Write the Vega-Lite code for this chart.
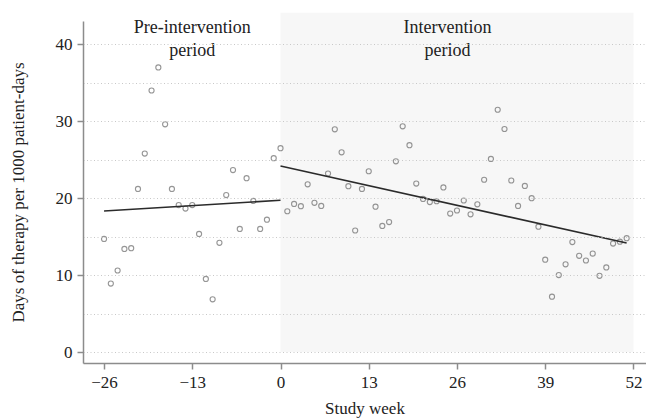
{
  "$schema": "https://vega.github.io/schema/vega-lite/v6.json",
  "autosize": "none",
  "width": 563,
  "height": 342,
  "padding": {"left": 83, "top": 21, "right": 0, "bottom": 57},
  "background": "white",
  "config": {
    "font": "Liberation Serif",
    "view": {"stroke": null},
    "axis": {
      "labelFont": "Liberation Serif",
      "titleFont": "Liberation Serif",
      "labelFontSize": 17,
      "titleFontSize": 17,
      "titleFontWeight": "normal",
      "labelColor": "#222",
      "titleColor": "#222",
      "domainColor": "#8c8c8c",
      "domainWidth": 1.5,
      "tickColor": "#8c8c8c",
      "tickWidth": 1.5,
      "tickSize": 6,
      "labelPadding": 5
    }
  },
  "datasets": {
    "weeks": [
      {"week": -26, "dot": 14.7}, {"week": -25, "dot": 8.9}, {"week": -24, "dot": 10.6},
      {"week": -23, "dot": 13.4}, {"week": -22, "dot": 13.5}, {"week": -21, "dot": 21.2},
      {"week": -20, "dot": 25.8}, {"week": -19, "dot": 34.0}, {"week": -18, "dot": 37.0},
      {"week": -17, "dot": 29.6}, {"week": -16, "dot": 21.2}, {"week": -15, "dot": 19.1},
      {"week": -14, "dot": 18.65}, {"week": -13, "dot": 19.1}, {"week": -12, "dot": 15.35},
      {"week": -11, "dot": 9.5}, {"week": -10, "dot": 6.85}, {"week": -9, "dot": 14.2},
      {"week": -8, "dot": 20.4}, {"week": -7, "dot": 23.65}, {"week": -6, "dot": 16.0},
      {"week": -5, "dot": 22.6}, {"week": -4, "dot": 19.65}, {"week": -3, "dot": 16.0},
      {"week": -2, "dot": 17.2}, {"week": -1, "dot": 25.2},
      {"week": 0, "dot": 26.5}, {"week": 1, "dot": 18.3}, {"week": 2, "dot": 19.26},
      {"week": 3, "dot": 18.96}, {"week": 4, "dot": 21.8}, {"week": 5, "dot": 19.4},
      {"week": 6, "dot": 19.0}, {"week": 7, "dot": 23.2}, {"week": 8, "dot": 28.96},
      {"week": 9, "dot": 25.96}, {"week": 10, "dot": 21.56}, {"week": 11, "dot": 15.8},
      {"week": 12, "dot": 21.2}, {"week": 13, "dot": 23.5}, {"week": 14, "dot": 18.9},
      {"week": 15, "dot": 16.4}, {"week": 16, "dot": 16.9}, {"week": 17, "dot": 24.8},
      {"week": 18, "dot": 29.35}, {"week": 19, "dot": 26.9}, {"week": 20, "dot": 21.9},
      {"week": 21, "dot": 19.9}, {"week": 22, "dot": 19.5}, {"week": 23, "dot": 19.6},
      {"week": 24, "dot": 21.4}, {"week": 25, "dot": 18.0}, {"week": 26, "dot": 18.4},
      {"week": 27, "dot": 19.7}, {"week": 28, "dot": 17.9}, {"week": 29, "dot": 19.2},
      {"week": 30, "dot": 22.4}, {"week": 31, "dot": 25.1}, {"week": 32, "dot": 31.5},
      {"week": 33, "dot": 29.0}, {"week": 34, "dot": 22.3}, {"week": 35, "dot": 19.0},
      {"week": 36, "dot": 21.6}, {"week": 37, "dot": 20.0}, {"week": 38, "dot": 16.3},
      {"week": 39, "dot": 12.0}, {"week": 40, "dot": 7.2}, {"week": 41, "dot": 10.0},
      {"week": 42, "dot": 11.4}, {"week": 43, "dot": 14.3}, {"week": 44, "dot": 12.5},
      {"week": 45, "dot": 11.9}, {"week": 46, "dot": 12.8}, {"week": 47, "dot": 9.9},
      {"week": 48, "dot": 11.0}, {"week": 49, "dot": 14.1}, {"week": 50, "dot": 14.35},
      {"week": 51, "dot": 14.8}
    ],
    "fits": [
      {"segment": "pre", "week": -26, "fit": 18.34},
      {"segment": "pre", "week": 0, "fit": 19.73},
      {"segment": "int", "week": 0, "fit": 24.19},
      {"segment": "int", "week": 51, "fit": 14.17}
    ],
    "periods": [
      {"period": "Intervention", "start": 0, "end": 52}
    ],
    "labels": [
      {"label": "Pre-intervention\nperiod"}
    ],
    "labels2": [
      {"label": "Intervention\nperiod"}
    ]
  },
  "layer": [
    {
      "data": {"name": "periods"},
      "mark": {"type": "rect", "color": "#f7f7f7"},
      "encoding": {
        "x": {"field": "start", "type": "quantitative"},
        "x2": {"field": "end"},
        "y": {"datum": 0},
        "y2": {"datum": 44.1}
      }
    },
    {
      "data": {"name": "weeks"},
      "mark": {"type": "point", "filled": false, "stroke": "#6a6a6a", "strokeWidth": 1.1, "size": 26},
      "encoding": {
        "x": {
          "field": "week", "type": "quantitative",
          "scale": {"domain": [-29.1, 53.85], "nice": false, "zero": false},
          "axis": {"values": [-26, -13, 0, 13, 26, 39, 52], "title": "Study week", "titlePadding": 10, "grid": false, "zindex": 1}
        },
        "y": {
          "field": "dot", "type": "quantitative",
          "scale": {"domain": [-1.43, 43.04], "nice": false, "zero": false},
          "axis": {
            "values": [0, 5, 10, 15, 20, 25, 30, 35, 40],
            "title": "Days of therapy per 1000 patient-days",
            "titlePadding": 28,
            "grid": true,
            "gridColor": "#c8c8c8",
            "gridDash": [1, 2.5],
            "gridWidth": 1,
            "labelExpr": "datum.value % 10 === 0 ? datum.label : ''",
            "tickOpacity": {"condition": {"test": "datum.value % 10 === 0", "value": 1}, "value": 0},
            "zindex": 1
          }
        }
      }
    },
    {
      "data": {"name": "fits"},
      "mark": {"type": "line", "color": "#2b2b2b", "strokeWidth": 1.6},
      "encoding": {
        "x": {"field": "week", "type": "quantitative"},
        "y": {"field": "fit", "type": "quantitative"},
        "detail": {"field": "segment"}
      }
    },
    {
      "data": {"name": "labels"},
      "mark": {"type": "text", "font": "Liberation Serif", "fontSize": 18, "color": "#222", "align": "center", "baseline": "alphabetic", "lineHeight": 23, "lineBreak": "\n"},
      "encoding": {
        "x": {"datum": -13},
        "y": {"datum": 41.5},
        "text": {"field": "label"}
      }
    },
    {
      "data": {"name": "labels2"},
      "mark": {"type": "text", "font": "Liberation Serif", "fontSize": 18, "color": "#222", "align": "center", "baseline": "alphabetic", "lineHeight": 23, "lineBreak": "\n"},
      "encoding": {
        "x": {"datum": 24.6},
        "y": {"datum": 41.5},
        "text": {"field": "label"}
      }
    }
  ]
}
